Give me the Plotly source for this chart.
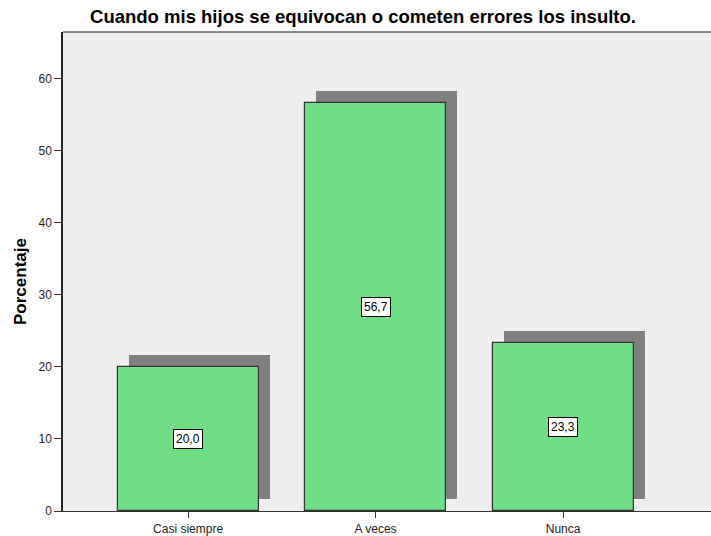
import plotly.graph_objects as go

categories = ["Casi siempre", "A veces", "Nunca"]
values = [20.0, 56.7, 23.3]
labels = ["20,0", "56,7", "23,3"]
y_ticks = [0, 10, 20, 30, 40, 50, 60]

FONT = "Arial, Liberation Sans, sans-serif"
x_pos = list(range(len(categories)))
shadow_dx = 0.059
shadow_dy = 1.67

W, H = 711, 536
L, T, B = 63, 32, 25

fig = go.Figure()
fig.add_trace(go.Bar(
    x=[p + shadow_dx for p in x_pos], y=values, base=[shadow_dy] * len(values),
    width=0.752, marker=dict(color="#808080", line=dict(width=0)),
    hoverinfo="skip", showlegend=False))
fig.add_trace(go.Bar(
    x=x_pos, y=values, width=0.752,
    marker=dict(color="#70DE84", line=dict(color="#333333", width=1.2)),
    showlegend=False))

for p, v, t in zip(x_pos, values, labels):
    fig.add_annotation(x=p, y=v / 2, text=t, showarrow=False,
                       font=dict(family=FONT, size=12, color="black"),
                       bgcolor="white", bordercolor="black", borderwidth=1, borderpad=2)

# y-axis title placed as annotation (slightly below the axis centre, as in the reference)
fig.add_annotation(xref="paper", yref="paper", x=0, y=(H - B - 282) / (H - B - T),
                   xshift=-(L - 20), text="<b>Porcentaje</b>", textangle=-90,
                   showarrow=False, xanchor="center", yanchor="middle",
                   font=dict(family=FONT, size=17, color="black"))

fig.add_shape(type="line", xref="paper", yref="paper", x0=0, x1=1, y0=1, y1=1,
              line=dict(color="#666666", width=1.5))

fig.update_layout(
    width=W, height=H,
    margin=dict(l=L, r=0, t=T, b=B, autoexpand=False),
    paper_bgcolor="white", plot_bgcolor="#EFEFEF",
    barmode="overlay", bargap=0,
    title=dict(text="<b>Cuando mis hijos se equivocan o cometen errores los insulto.</b>",
               x=363 / W, xanchor="center", y=1 - 17 / H, yanchor="middle",
               font=dict(family=FONT, size=18.5, color="black")),
    xaxis=dict(range=[-0.667, 2.789], tickvals=x_pos, ticktext=categories,
               showgrid=False, zeroline=False, showline=True, linecolor="#333333", linewidth=1.2,
               ticks="outside", ticklen=6, tickcolor="#333333",
               tickfont=dict(family=FONT, size=12, color="#222222")),
    yaxis=dict(range=[0, 66.5], tickvals=y_ticks, showgrid=False, zeroline=False,
               showline=True, linecolor="#222222", linewidth=1.5,
               ticks="outside", ticklen=7, tickcolor="#333333",
               tickfont=dict(family=FONT, size=12, color="#222222")),
)

fig.write_html("out.html", config={"displayModeBar": False},
               post_script="document.body.style.margin='0';document.body.style.overflow='hidden';")
